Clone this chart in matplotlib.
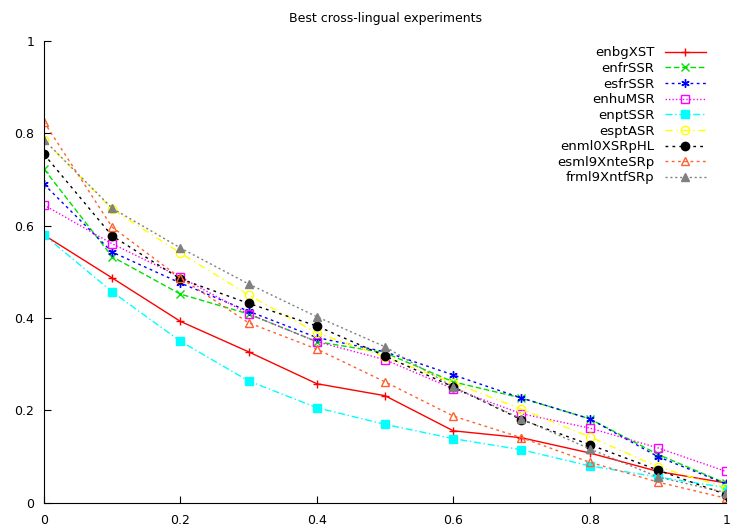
import matplotlib
matplotlib.use("Agg")
import matplotlib.pyplot as plt

# proporciones
x = [0, 0.1, 0.2, 0.3, 0.4, 0.5, 0.6, 0.7, 0.8, 0.9, 1.0]

enbgXST = [0.58, 0.487, 0.393, 0.327, 0.258, 0.232, 0.156, 0.141, 0.108, 0.068, 0.043]
enfrSSR = [0.723, 0.533, 0.452, 0.409, 0.349, 0.325, 0.262, 0.227, 0.182, 0.105, 0.042]
esfrSSR = [0.690, 0.543, 0.476, 0.415, 0.358, 0.327, 0.277, 0.227, 0.182, 0.100, 0.041]
enhuMSR = [0.645, 0.561, 0.489, 0.409, 0.349, 0.310, 0.247, 0.193, 0.162, 0.119, 0.068]
enptSSR = [0.58, 0.457, 0.350, 0.264, 0.206, 0.170, 0.139, 0.115, 0.080, 0.056, 0.033]
esptASR = [0.786, 0.636, 0.541, 0.450, 0.368, 0.316, 0.260, 0.203, 0.143, 0.078, 0.033]
enml0XSRpHL = [0.755, 0.578, 0.485, 0.432, 0.383, 0.318, 0.251, 0.180, 0.126, 0.071, 0.018]
esml9XnteSRp = [0.825, 0.597, 0.487, 0.390, 0.333, 0.262, 0.188, 0.141, 0.088, 0.045, 0.010]
frml9XntfSRp = [0.786, 0.638, 0.552, 0.474, 0.403, 0.338, 0.251, 0.182, 0.117, 0.056, 0.022]

series = [
    ("enbgXST", enbgXST, "#ff0000", "-", "+", "none"),
    ("enfrSSR", enfrSSR, "#00e000", (0, (4, 2)), "x", "none"),
    ("esfrSSR", esfrSSR, "#0000ff", (0, (2, 2.5)), (6, 2, 0), "none"),
    ("enhuMSR", enhuMSR, "#ff00ff", (0, (1, 1.5)), "s", "open"),
    ("enptSSR", enptSSR, "#00ffff", (0, (5, 2, 1, 2)), "s", "full"),
    ("esptASR", esptASR, "#ffff00", (0, (5, 3, 1, 3)), "o", "open"),
    ("enml0XSRpHL", enml0XSRpHL, "#000000", (0, (2, 3)), "o", "full"),
    ("esml9XnteSRp", esml9XnteSRp, "#ff6030", (0, (2, 2.5)), "^", "open"),
    ("frml9XntfSRp", frml9XntfSRp, "#808080", (0, (1.5, 2)), "^", "full"),
]

fig = plt.figure(figsize=(7.32, 5.26), dpi=100)
ax = fig.add_axes([0.060, 0.044, 0.932, 0.878])

for nombre, y, color, ls, mk, fill in series:
    cara = "none" if fill == "open" else color
    ax.plot(x, y, color=color, linestyle=ls, linewidth=1, marker=mk,
            markersize=6, markerfacecolor=cara, markeredgecolor=color,
            markeredgewidth=1, label=nombre)

ax.set_xlim(0, 1)
ax.set_ylim(0, 1)
ax.set_xticks([0, 0.2, 0.4, 0.6, 0.8, 1])
ax.set_yticks([0, 0.2, 0.4, 0.6, 0.8, 1])
ax.set_xticklabels(["0", "0.2", "0.4", "0.6", "0.8", "1"])
ax.set_yticklabels(["0", "0.2", "0.4", "0.6", "0.8", "1"])
ax.tick_params(axis="x", direction="in", length=5, labelsize=9, pad=8)
ax.tick_params(axis="y", direction="in", length=5, labelsize=9, pad=7)
ax.spines["top"].set_visible(False)
ax.spines["right"].set_visible(False)
ax.set_title("Best cross-lingual experiments", fontsize=9, pad=14)

ax.legend(loc="upper right", bbox_to_anchor=(0.978, 1.0), frameon=False,
          markerfirst=False, fontsize=9.5, handlelength=3.1,
          labelspacing=0.2, handletextpad=0.8, borderaxespad=0.0)

fig.savefig("out.png", dpi=100)
